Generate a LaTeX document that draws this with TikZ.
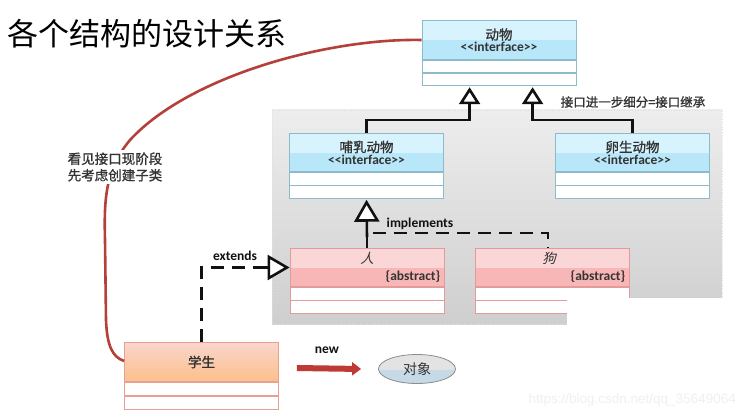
\documentclass[tikz,border=0pt]{standalone}
\usepackage{fontspec}
\usetikzlibrary{arrows.meta,positioning,calc,shapes.geometric}
\newfontfamily\cjk{Noto Sans CJK SC}
\newfontfamily\cjkb[FakeBold=1.2]{Noto Sans CJK SC}
\newfontfamily\cjki[FakeSlant=0.25]{Noto Sans CJK SC}
\newfontfamily\lat{Carlito}
\newfontfamily\wmfont{Liberation Sans}
\definecolor{ifA}{HTML}{D7F3FD}
\definecolor{ifB}{HTML}{B8E7F9}
\definecolor{ifLine}{HTML}{8DBBCB}
\definecolor{abA}{HTML}{FAD6D6}
\definecolor{abB}{HTML}{F8B6B6}
\definecolor{abLine}{HTML}{E39A9A}
\definecolor{stA}{HTML}{F9D5CB}
\definecolor{stB}{HTML}{FCC08C}
\definecolor{stLine}{HTML}{E8A090}
\definecolor{curvec}{HTML}{B5403A}
\definecolor{newred}{HTML}{BE3A34}
\definecolor{txt}{HTML}{333333}
\definecolor{conn}{HTML}{111111}
\definecolor{ellB}{HTML}{C6D9E7}
\begin{document}
\begin{tikzpicture}[x=1pt,y=-1pt,
  every node/.style={text=txt},
  boxhead/.style={line width=0.8pt, minimum width=154pt, minimum height=38.5pt, inner sep=0pt, align=center},
  ifhead/.style={boxhead, draw=ifLine, fill=ifA,
     path picture={\fill[ifB] ([yshift=-0.5pt]path picture bounding box.west) rectangle (path picture bounding box.south east);}},
  abhead/.style={boxhead, draw=abLine, fill=abA,
     path picture={\fill[abB] ([yshift=-0.5pt]path picture bounding box.west) rectangle (path picture bounding box.south east);}},
  sthead/.style={boxhead, draw=stLine, top color=stA, bottom color=stB},
  ifrow/.style={draw=ifLine, line width=0.8pt, fill=white, minimum width=154pt, minimum height=12.5pt, inner sep=0pt},
  abrow/.style={draw=abLine, line width=0.8pt, fill=white, minimum width=154pt, minimum height=12.5pt, inner sep=0pt},
  strow/.style={draw=stLine, line width=0.8pt, fill=white, minimum width=154pt, minimum height=13.5pt, inner sep=0pt},
  ttl/.style={font=\cjkb\fontsize{13.5}{17}\selectfont},
  stereo/.style={font=\lat\bfseries\fontsize{13.5}{16}\selectfont},
  lbl/.style={font=\lat\bfseries\fontsize{13.5}{16}\selectfont, text=conn},
  gen/.style={draw=conn, line width=2.6pt, -{Triangle[fill=white, length=17pt, width=21pt]}},
  genbig/.style={draw=conn, line width=2.6pt, -{Triangle[fill=white, length=22pt, width=25pt]}},
  dashline/.style={draw=conn, line width=2.6pt, dash pattern=on 13pt off 8pt}
]
\useasboundingbox (0,0) rectangle (745,417);
\fill[white] (0,0) rectangle (745,417);

% title
\node[anchor=west, inner sep=0pt, font=\cjk\fontsize{31}{36}\selectfont, text=black] (title) at (7,34) {各个结构的设计关系};

% grey panel
\shade[top color=black!7, bottom color=black!19] (272,110) rectangle (722,324);
\draw[black!12, line width=0.6pt, dotted] (272,110) rectangle (722,324);

% 动物
\node[ifhead] (dw) at (499,40) {{\cjkb\fontsize{13.5}{17}\selectfont 动物}\\[0pt]{\lat\bfseries\fontsize{13.5}{16}\selectfont <<interface>>}};
\node[ifrow, below=0pt of dw] (dw1) {};
\node[ifrow, below=0pt of dw1] (dw2) {};

% 哺乳动物
\node[ifhead] (bru) at (366.5,152.5) {{\cjkb\fontsize{13.5}{17}\selectfont 哺乳动物}\\[0pt]{\lat\bfseries\fontsize{13.5}{16}\selectfont <<interface>>}};
\node[ifrow, below=0pt of bru] (bru1) {};
\node[ifrow, below=0pt of bru1] (bru2) {};

% 卵生动物
\node[ifhead] (lsh) at (632.5,152.5) {{\cjkb\fontsize{13.5}{17}\selectfont 卵生动物}\\[0pt]{\lat\bfseries\fontsize{13.5}{16}\selectfont <<interface>>}};
\node[ifrow, below=0pt of lsh] (lsh1) {};
\node[ifrow, below=0pt of lsh1] (lsh2) {};

% 人
\node[abhead] (ren) at (367,267.5) {};
\node[abrow, below=0pt of ren] (ren1) {};
\node[abrow, below=0pt of ren1] (ren2) {};
\node[inner sep=0pt, font=\cjki\fontsize{13.5}{17}\selectfont] (renT) at ($(ren.north)+(0,10.5)$) {人};
\node[anchor=east, inner sep=0pt, stereo] (renA) at ($(ren.east)+(-4,9.5)$) {\{abstract\}};

% 狗
\node[abhead] (gou) at (552,267.5) {};
\node[abrow, below=0pt of gou] (gou1) {};
\node[abrow, below=0pt of gou1] (gou2) {};
\node[inner sep=0pt, font=\cjki\fontsize{13.5}{17}\selectfont] (gouT) at ($(gou.north)+(-3,10.5)$) {狗};
\node[anchor=east, inner sep=0pt, stereo] (gouA) at ($(gou.east)+(-4,9.5)$) {\{abstract\}};

% white cut at bottom right
\fill[white] (567,298) rectangle (735,330);

% 学生
\node[sthead, ttl] (xs) at (201.5,362) {学生};
\node[strow, below=0pt of xs] (xs1) {};
\node[strow, below=0pt of xs1] (xs2) {};

% 对象
\node[ellipse, draw=black!45, line width=0.8pt, minimum width=77pt, minimum height=29pt, inner sep=0pt,
  fill=black!11, path picture={\fill[ellB] ([yshift=-1pt]path picture bounding box.west) rectangle (path picture bounding box.south east);},
  font=\cjk\fontsize{14}{17}\selectfont] (dx) at (417,369) {对象};

% interface inheritance
\draw[gen] (bru.north) -- (bru.north |- 0,120) -| ($(dw2.south west)+(48,1)$);
\draw[gen] (lsh.north) -- (lsh.north |- 0,120) -| ($(dw2.south west)+(111,1)$);
\node[inner sep=0pt, font=\cjkb\fontsize{12.5}{15}\selectfont] (ann) at (633,102) {接口进一步细分=接口继承};

% implements
\draw[dashline] (ren.north) -- ++(0,-15) -| (gou.north -| 548,0);
\draw[genbig] ($(ren.north)+(0,-11)$) -- ($(bru2.south)+(0,1)$);
\node[lbl] (impl) at (420,224) {implements};

% extends
\draw[dashline] (xs.north) |- ($(ren.west)+(-26,0)$);
\draw[genbig] ($(ren.west)+(-28,0)$) -- (ren.west);
\node[lbl] (ext) at (235,256) {extends};

% new
\draw[newred, line width=6pt, -{Triangle[length=9pt, width=13pt]}] ($(xs.east)+(18,6)$) -- ($(dx.west)+(-17,0)$);
\node[lbl] (newl) at (327,350) {new};

% red curve and note
\draw[curvec, line width=2.6pt] (dw.west) .. controls (330,38) and (190,75) .. (130,140)
   .. controls (105,170) and (104,200) .. (105,240) -- (106,320)
   .. controls (107,345) and (112,357) .. (xs.west |- 0,361);
\node[fill=white, inner sep=2pt, align=center, font=\cjkb\fontsize{13.5}{16.5}\selectfont] (note) at (115,167) {看见接口现阶段\\先考虑创建子类};

% watermark
\node[anchor=east, inner sep=0pt, text=black!6, font=\wmfont\fontsize{13.5}{16}\selectfont] (wm) at (736,400) {https://blog.csdn.net/qq\_35649064};
\end{tikzpicture}
\end{document}
